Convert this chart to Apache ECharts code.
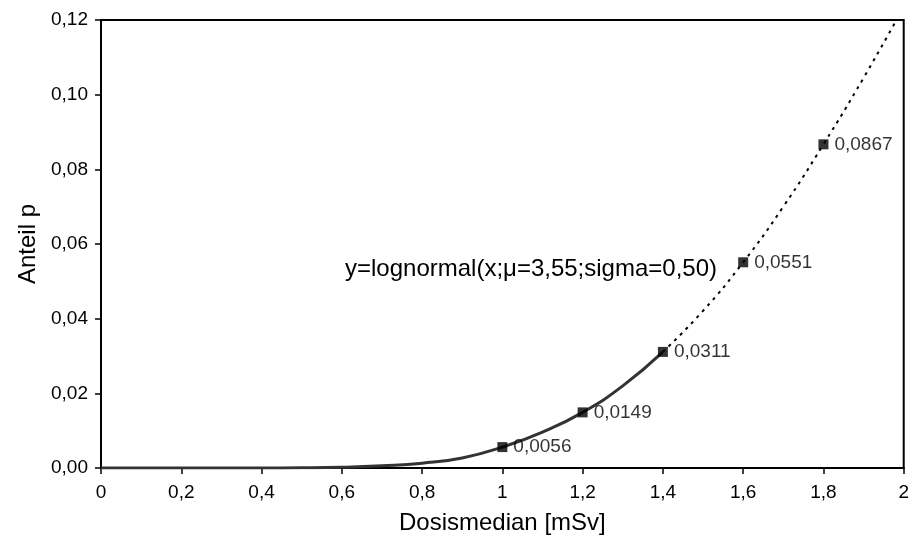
<!DOCTYPE html>
<html><head><meta charset="utf-8">
<script src="https://cdn.jsdelivr.net/npm/echarts@6/dist/echarts.min.js"></script>
<style>html,body{margin:0;padding:0;background:#fff}#c{width:912px;height:544px}</style>
</head><body><div id="c"></div>
<script>
// Fitted curve (solid part)
const solidX = [0, 0.1, 0.2, 0.3, 0.4, 0.5, 0.6, 0.7, 0.8, 0.9, 1.0, 1.1, 1.2, 1.3, 1.4];
const solidY = [0, 0, 0, 0, 0.00001, 0.00005, 0.0002, 0.0006, 0.0013, 0.0027, 0.0056, 0.0096, 0.0149, 0.0220, 0.0311];
// Extrapolated curve (dotted part)
const dottedX = [1.4, 1.5, 1.6, 1.7, 1.8, 1.9, 2.0];
const dottedY = [0.0311, 0.0421, 0.0551, 0.0700, 0.0867, 0.1045, 0.1235];
// Marked points
const pointX = [1.0, 1.2, 1.4, 1.6, 1.8];
const pointY = [0.0056, 0.0149, 0.0311, 0.0551, 0.0867];
const pointLabels = ['0,0056', '0,0149', '0,0311', '0,0551', '0,0867'];
const annotation = 'y=lognormal(x;\u03bc=3,55;sigma=0,50)';
const xTitle = 'Dosismedian [mSv]';
const yTitle = 'Anteil p';

const zip = (a, b) => a.map((v, i) => [v, b[i]]);
const font = 'Liberation Sans, Arial, sans-serif';
const chart = echarts.init(document.getElementById('c'), null, {renderer: 'canvas'});
chart.setOption({
  animation: false,
  backgroundColor: '#fff',
  grid: {left: 101, right: 4, top: 20, bottom: 76, show: true, borderColor: '#000', borderWidth: 2},
  xAxis: {
    type: 'value', min: 0, max: 2, interval: 0.2,
    name: xTitle, nameLocation: 'middle', nameGap: 43,
    nameTextStyle: {fontFamily: font, fontSize: 24, color: '#000'},
    axisLine: {show: true, lineStyle: {color: '#000', width: 2}},
    axisTick: {show: true, length: 6, lineStyle: {color: '#000', width: 1.5}},
    axisLabel: {fontFamily: font, fontSize: 19, color: '#000', margin: 15,
      formatter: v => String(Math.round(v * 10) / 10).replace('.', ',')},
    splitLine: {show: false}
  },
  yAxis: {
    type: 'value', min: 0, max: 0.12, interval: 0.02,
    name: yTitle, nameLocation: 'middle', nameGap: 61, nameRotate: 90,
    nameTextStyle: {fontFamily: font, fontSize: 24, color: '#000'},
    axisLine: {show: true, lineStyle: {color: '#000', width: 2}},
    axisTick: {show: true, length: 6, lineStyle: {color: '#000', width: 1.5}},
    axisLabel: {fontFamily: font, fontSize: 19, color: '#000', margin: 13,
      formatter: v => v.toFixed(2).replace('.', ',')},
    splitLine: {show: false}
  },
  series: [
    {type: 'line', data: zip(solidX, solidY), smooth: true, symbol: 'none', clip: true,
     lineStyle: {color: '#333', width: 3}, z: 2},
    {type: 'line', data: zip(dottedX, dottedY), smooth: true, symbol: 'none', clip: true,
     lineStyle: {color: '#000', width: 2, type: [3, 5]}, z: 2},
    {type: 'scatter', data: zip(pointX, pointY), symbol: 'rect', symbolSize: 10,
     itemStyle: {color: '#000'}, z: 3,
     label: {show: true, position: 'right', distance: 6, fontFamily: font, fontSize: 19, color: '#000',
       formatter: p => pointLabels[p.dataIndex]}}
  ],
  graphic: [
    {type: 'text', left: 345, top: 257, style: {text: annotation, font: '24px ' + font, fill: '#000'}}
  ]
});
</script></body></html>
